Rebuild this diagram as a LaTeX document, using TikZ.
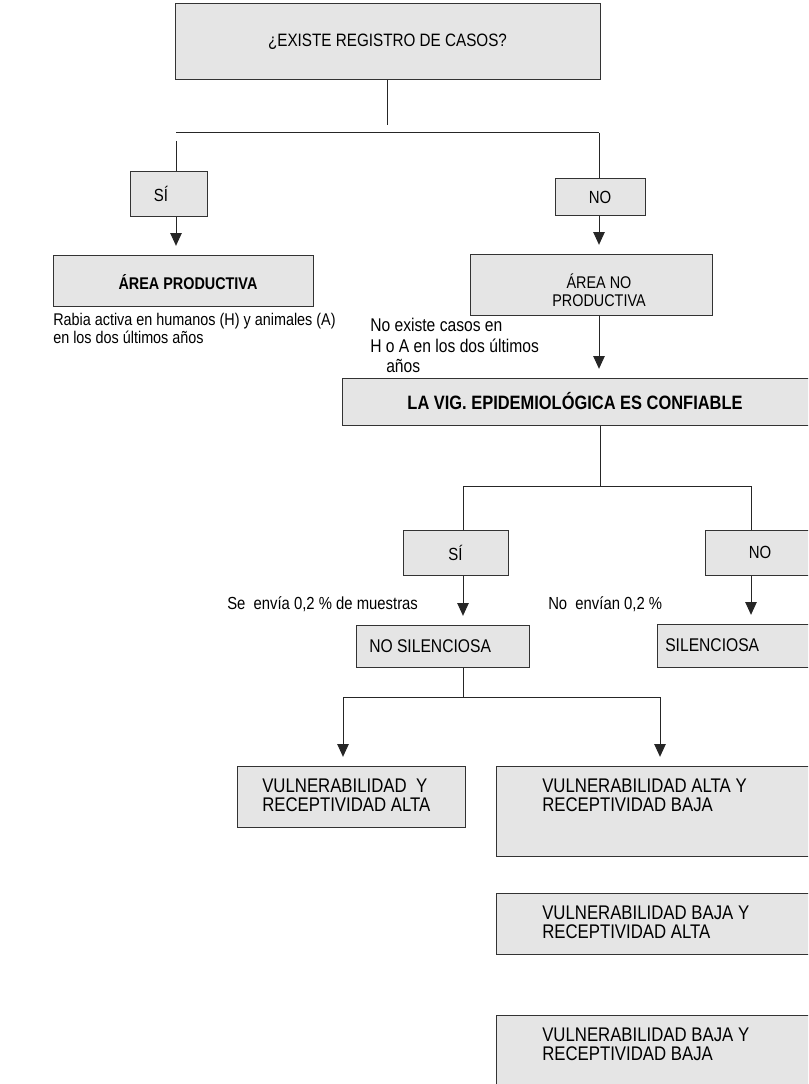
\documentclass[tikz,border=0pt]{standalone}
\usepackage{fontspec}
\setmainfont{Liberation Sans}[FakeStretch=0.85]
\usetikzlibrary{arrows.meta,calc}
\newcommand\fsz[2]{\fontsize{#1}{#2}\selectfont}
\begin{document}
\begin{tikzpicture}[x=0.75pt,y=-0.75pt,
  box/.style 2 args={draw=black!80, fill=gray!20, line width=0.75pt,
    minimum width=#1*0.75pt, minimum height=#2*0.75pt, inner sep=0pt},
  txt/.style={inner sep=0pt, text=black},
  ln/.style={draw=black!85, line width=0.75pt},
  arr/.style={ln, -{Triangle[width=8.5pt,length=9.5pt]}, shorten >=6.5pt},
]
\useasboundingbox (0,0) rectangle (808,1084);
\clip (0,0) rectangle (808,1084);

% boxes
\node[box={425}{76}, font=\fsz{13.45}{15}] (top) at (387.5,42) {¿EXISTE REGISTRO DE CASOS?};
\node[box={77}{45}] (si1) at (168.5,194.5) {};
\node[txt, font=\fsz{13.2}{15}] (si1t) at (161,194) {SÍ};
\node[box={90}{37}, font=\fsz{13.2}{15}] (no1) at (600,197.5) {NO};
\node[box={260}{51}] (ap) at (183,280.5) {};
\node[txt, font=\bfseries\fsz{12.7}{14}] (apt) at (188,282) {ÁREA PRODUCTIVA};
\node[box={242}{61}] (anp) at (591,284.5) {};
\node[txt, font=\fsz{12.7}{13.5}, align=center] (anpt) at (599,290) {ÁREA NO\\PRODUCTIVA};
\node[box={488}{47}] (vig) at (586,401.5) {};
\node[txt, font=\bfseries\fsz{14.5}{16}] (vigt) at (575,401.5) {LA VIG. EPIDEMIOLÓGICA ES CONFIABLE};
\node[box={105}{45}, font=\fsz{13.2}{15}] (si2) at (455.5,552.5) {SÍ};
\node[box={110}{45}, font=\fsz{13.2}{15}] (no2) at (760,552.5) {NO};
\node[box={173}{42}] (nosil) at (442.5,646) {};
\node[txt, anchor=west, font=\fsz{13.8}{15}] (nosilt) at (369,646) {NO SILENCIOSA};
\node[box={158}{43}] (sil) at (736,645.5) {};
\node[txt, anchor=west, font=\fsz{13.8}{15}] (silt) at (665,645) {SILENCIOSA};
\node[box={228}{61}] (vA) at (351,796.5) {};
\node[txt, anchor=west, align=left, font=\fsz{14.8}{14.5}] (vAt) at (262,795) {VULNERABILIDAD\ \ Y\\RECEPTIVIDAD ALTA};
\node[box={319}{90}] (vB) at (655.5,811) {};
\node[txt, anchor=west, align=left, font=\fsz{14.8}{14.5}] (vBt) at (542,795) {VULNERABILIDAD ALTA Y\\RECEPTIVIDAD BAJA};
\node[box={319}{61}] (vC) at (655.5,923.5) {};
\node[txt, anchor=west, align=left, font=\fsz{14.8}{14.5}] (vCt) at (542,922) {VULNERABILIDAD BAJA Y\\RECEPTIVIDAD ALTA};
\node[box={319}{85}] (vD) at (655.5,1057.5) {};
\node[txt, anchor=west, align=left, font=\fsz{14.8}{14.5}] (vDt) at (542,1044) {VULNERABILIDAD BAJA Y\\RECEPTIVIDAD BAJA};

% free texts
\node[txt, anchor=north west, align=left, font=\fsz{12.7}{13.5}] (cap) at (53,313)
  {Rabia activa en humanos (H) y animales (A)\\en los dos últimos años};
\node[txt, anchor=north west, align=left, font=\fsz{13.8}{15.5}] (nocas) at (370,318)
  {No existe casos en\\H o A en los dos últimos\\\hspace*{12pt}años};
\node[txt, anchor=west, font=\fsz{13.1}{15}] (envia) at (227,604) {Se\ \ envía 0,2 \% de muestras};
\node[txt, anchor=west, font=\fsz{13.1}{15}] (noenv) at (548,604) {No\ \ envían 0,2 \%};

% junction coordinates
\coordinate (j1) at (388,125);
\coordinate (hL) at (176,133);
\coordinate (hR) at (599,133);
\coordinate (sL) at (176,141);
\coordinate (j2) at (600,486);
\coordinate (h2L) at (463,486);
\coordinate (h2R) at (751,486);
\coordinate (j3) at (463,697);
\coordinate (h3L) at (343,697);
\coordinate (h3R) at (660,697);

% connectors
\draw[ln] (top) -- (top |- j1);
\draw[ln] (hL) -- (hR);
\draw[ln] (sL) -- (sL |- si1.north);
\draw[ln] (hR) -- (hR |- no1.north);
\draw[arr] (sL |- si1.south) -- (sL |- ap.north);
\draw[arr] (hR |- no1.south) -- (hR |- anp.north);
\draw[arr] (hR |- anp.south) -- (hR |- vig.north);
\draw[ln] (j2 |- vig.south) -- (j2);
\draw[ln] (h2L) -- (h2R);
\draw[ln] (h2L) -- (h2L |- si2.north);
\draw[ln] (h2R) -- (h2R |- no2.north);
\draw[arr] (h2L |- si2.south) -- (h2L |- nosil.north);
\draw[arr] (h2R |- no2.south) -- (h2R |- sil.north);
\draw[ln] (j3 |- nosil.south) -- (j3);
\draw[ln] (h3L) -- (h3R);
\draw[arr] (h3L) -- (h3L |- vA.north);
\draw[arr] (h3R) -- (h3R |- vB.north);
\end{tikzpicture}
\end{document}
